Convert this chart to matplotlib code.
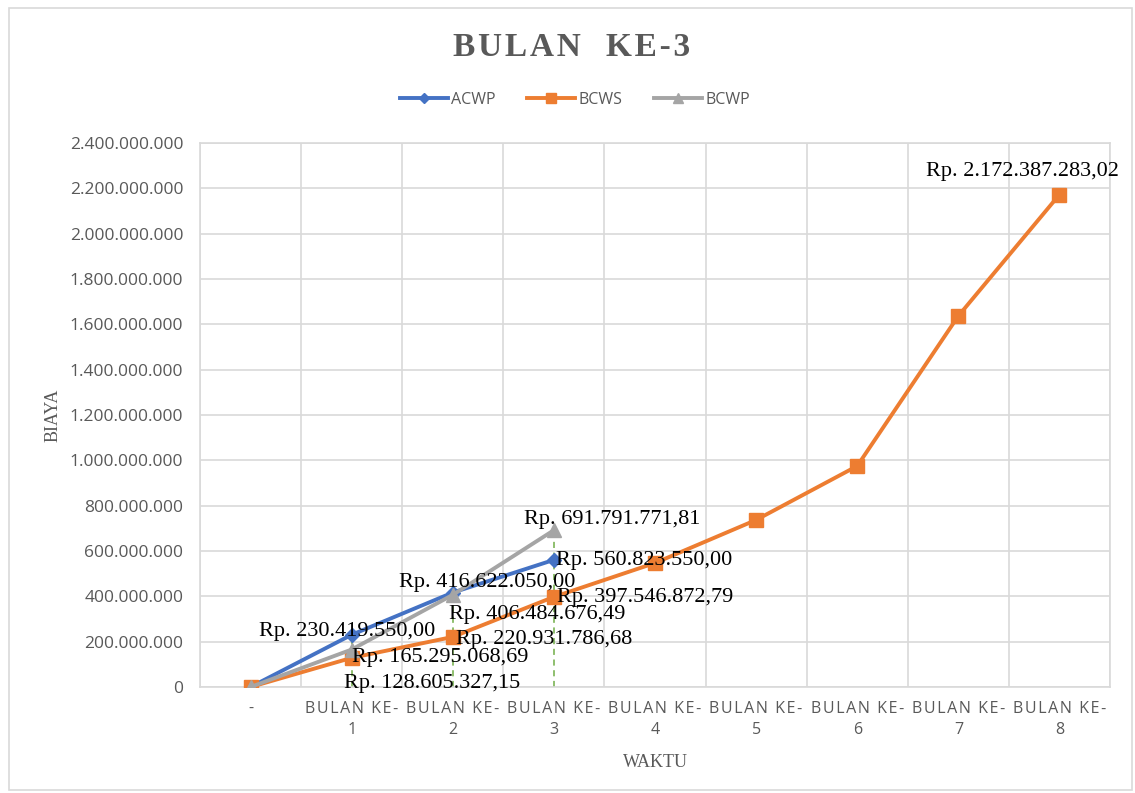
import numpy as np
import matplotlib.pyplot as plt
from matplotlib.patches import Rectangle

# data
categories = ["-"] + ["BULAN KE-\n%d" % i for i in range(1, 9)]
acwp = [0, 230419550.00, 416622050.00, 560823550.00]
bcws = [0, 128605327.15, 220931786.68, 397546872.79, 547000000,
        737000000, 975000000, 1637000000, 2172387283.02]
bcwp = [0, 165295068.69, 406484676.49, 691791771.81]

# which points get a data label, and where (pixel offsets)
label_offsets = {
    "ACWP": {1: (-5, 3), 2: (34, 10), 3: (90, -1)},
    "BCWS": {1: (80, -26), 2: (91, -3), 3: (91, -1), 8: (-37, 23)},
    "BCWP": {1: (89, -8), 2: (84, -20), 3: (58, 11)},
}

def rp(v):
    s = "{:,.2f}".format(v)
    s = s.replace(",", "X").replace(".", ",").replace("X", ".")
    return "Rp. " + s

def spaced(s, sp="\u200a"):
    # fake letter spacing
    return "\n".join(sp.join(line) for line in s.split("\n"))

grey = "#595959"
gridc = "#D9D9D9"

fig = plt.figure(figsize=(11.35, 7.93), dpi=100)
ax = fig.add_axes([200/1135, 1-687/793, 910/1135, 544/793])

# figure frame
fig.patches.append(Rectangle((9/1135, 1-790/793), 1123/1135, 782/793,
                             transform=fig.transFigure, fill=False,
                             edgecolor=gridc, linewidth=1.2))

x = np.arange(len(categories))
series = [
    ("ACWP", acwp, "#4472C4", "D", 7),
    ("BCWS", bcws, "#ED7D31", "s", 9.5),
    ("BCWP", bcwp, "#A5A5A5", "^", 9.5),
]

# green dashed drops
for i in range(1, len(acwp)):
    top = max(acwp[i], bcwp[i])
    ax.plot([x[i], x[i]], [0, top], color="#70AD47", ls=(0, (4, 3)), lw=1.1, zorder=2)

for name, vals, col, mk, ms in series:
    xs = x[:len(vals)]
    ax.plot(xs, vals, color=col, lw=2.8, marker=mk, markersize=ms, label=name, zorder=3)
    for idx, (dx, dy) in label_offsets[name].items():
        ax.annotate(rp(vals[idx]), (xs[idx], vals[idx]), xytext=(dx, dy),
                    textcoords="offset pixels", ha="center", va="center",
                    fontsize=16, family="Liberation Serif", color="black", zorder=5)

ax.set_xlim(-0.5, len(categories) - 0.5)
ax.set_ylim(0, 2400000000)
ax.set_yticks(np.arange(0, 2400000001, 200000000))
ax.set_yticklabels(["{:,}".format(int(v)).replace(",", ".") for v in ax.get_yticks()],
                   fontsize=12.5, color=grey, family="Open Sans")
ax.set_xticks(x)
ax.set_xticklabels([spaced(c) for c in categories], fontsize=11.5, color=grey,
                   family=["Open Sans", "DejaVu Sans"], linespacing=1.4)
ax.set_xticks(np.arange(-0.5, len(categories)), minor=True)
ax.tick_params(which="both", length=0)
ax.tick_params(axis="y", pad=12)
ax.tick_params(axis="x", pad=10)
ax.grid(True, which="minor", axis="x", color=gridc, lw=1.2)
ax.grid(True, which="major", axis="y", color=gridc, lw=1.2)
ax.set_axisbelow(True)
for sp in ax.spines.values():
    sp.set_color(gridc)
    sp.set_linewidth(1.2)

ax.set_ylabel("BIAYA", family="Liberation Serif", fontsize=13, color=grey, labelpad=6)
ax.set_xlabel("WAKTU", family="Liberation Serif", fontsize=13, color=grey, labelpad=12)

fig.text(572/1135, 1-47/793, spaced("BULAN  KE-3", "\u200a"), ha="center", va="center",
         fontsize=24, fontweight="bold", family=["Liberation Serif", "DejaVu Serif"], color=grey)
fig.legend(loc="center", bbox_to_anchor=(575/1135, 1-100/793), ncol=3, frameon=False,
           prop={"family": "Open Sans", "size": 11.5}, labelcolor=grey, markerscale=0.8,
           handlelength=3, columnspacing=2, handletextpad=0.2)

fig.savefig("out.png", dpi=100)
